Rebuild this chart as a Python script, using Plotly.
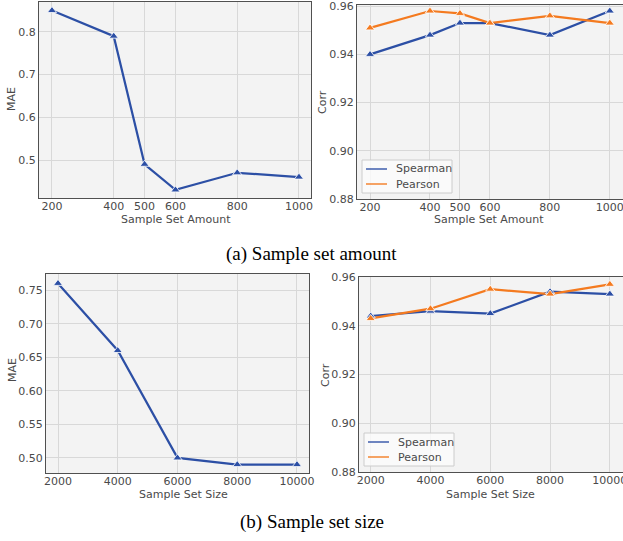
import plotly.graph_objects as go

# ---- data ----
amount_x = [200, 400, 500, 600, 800, 1000]
amount_mae = [0.85, 0.79, 0.49, 0.43, 0.47, 0.46]
amount_spearman = [0.940, 0.948, 0.953, 0.953, 0.948, 0.958]
amount_pearson = [0.951, 0.958, 0.957, 0.953, 0.956, 0.953]

size_x = [2000, 4000, 6000, 8000, 10000]
size_mae = [0.76, 0.66, 0.50, 0.49, 0.49]
size_spearman = [0.944, 0.946, 0.945, 0.954, 0.953]
size_pearson = [0.943, 0.947, 0.955, 0.953, 0.957]

amount_ticks = [200, 400, 500, 600, 800, 1000]
size_ticks = [2000, 4000, 6000, 8000, 10000]
corr_ticks = [0.88, 0.90, 0.92, 0.94, 0.96]
mae_ticks_a = [0.5, 0.6, 0.7, 0.8]
mae_ticks_b = [0.50, 0.55, 0.60, 0.65, 0.70, 0.75]

series_names = ["Spearman", "Pearson"]
x_titles = ["Sample Set Amount", "Sample Set Size"]
y_titles = ["MAE", "Corr"]
captions = ["(a) Sample set amount", "(b) Sample set size"]

BLUE = "#2c4fa5"
ORANGE = "#f47a1f"
GREY_TXT = "#4a4a4a"
W, H = 623, 541

fig = go.Figure()

def add(xs, ys, color, xa, ya):
    fig.add_trace(go.Scatter(
        x=xs, y=ys, mode="lines", line=dict(color=color, width=2.2),
        xaxis=xa, yaxis=ya, showlegend=False, hoverinfo="skip"))

def addm(xs, ys, color, xa, ya):
    fig.add_trace(go.Scatter(
        x=xs, y=ys, mode="markers",
        marker=dict(symbol="triangle-up", size=8, color=color,
                    line=dict(color="white", width=0.8)),
        xaxis=xa, yaxis=ya, showlegend=False, hoverinfo="skip"))

# TL
add(amount_x, amount_mae, BLUE, "x", "y")
addm(amount_x, amount_mae, BLUE, "x", "y")
# TR
add(amount_x, amount_spearman, BLUE, "x2", "y2")
add(amount_x, amount_pearson, ORANGE, "x2", "y2")
addm(amount_x, amount_spearman, BLUE, "x2", "y2")
addm(amount_x, amount_pearson, ORANGE, "x2", "y2")
# BL
add(size_x, size_mae, BLUE, "x3", "y3")
addm(size_x, size_mae, BLUE, "x3", "y3")
# BR
add(size_x, size_spearman, BLUE, "x4", "y4")
add(size_x, size_pearson, ORANGE, "x4", "y4")
addm(size_x, size_spearman, BLUE, "x4", "y4")
addm(size_x, size_pearson, ORANGE, "x4", "y4")

def dx(a, b):
    return [a / W, b / W]

def dy(top, bottom):
    return [1 - bottom / H, 1 - top / H]

TICKFONT = dict(family="DejaVu Sans", size=11, color=GREY_TXT)

def xaxis(domain, rng, ticks, anchor):
    return dict(domain=domain, range=rng, tickvals=ticks,
                ticktext=[str(t) for t in ticks], anchor=anchor, automargin=False,
                ticklabeloverflow="allow", ticklabelstandoff=-2,
                showgrid=True, gridcolor="#d8d8d8", gridwidth=1.2,
                zeroline=False, showline=True, linecolor="#505050", linewidth=1.3,
                mirror=True, ticks="", tickfont=TICKFONT)

def yaxis(domain, rng, ticks, fmt, anchor):
    return dict(domain=domain, range=rng, tickvals=ticks,
                ticktext=[format(t, fmt) for t in ticks], anchor=anchor, automargin=False,
                ticklabeloverflow="allow",
                showgrid=True, gridcolor="#d8d8d8", gridwidth=1.2,
                zeroline=False, showline=True, linecolor="#505050", linewidth=1.3,
                mirror=True, ticks="", tickfont=TICKFONT)

shapes = []
annotations = []

def legend_box(left, top):
    shapes.append(dict(type="rect", xref="paper", yref="paper",
                       x0=left / W, x1=(left + 90) / W,
                       y0=1 - (top + 33) / H, y1=1 - top / H,
                       fillcolor="rgba(250,250,250,0.85)",
                       line=dict(color="#cccccc", width=1), layer="above"))
    for i, (name, col) in enumerate(zip(series_names, [BLUE, ORANGE])):
        yc = top + 9 + i * 15
        shapes.append(dict(type="line", xref="paper", yref="paper",
                           x0=(left + 4) / W, x1=(left + 25) / W,
                           y0=1 - yc / H, y1=1 - yc / H,
                           line=dict(color=col, width=1.6), opacity=0.85, layer="above"))
        annotations.append(dict(text=name, x=(left + 32) / W, y=1 - yc / H,
                                xref="paper", yref="paper", showarrow=False,
                                xanchor="left", yanchor="middle",
                                font=dict(family="DejaVu Sans", size=11, color=GREY_TXT)))

legend_box(362, 160)
legend_box(364, 433)

def label(text, xc, yc, angle=0):
    annotations.append(dict(text=text, x=xc / W, y=1 - yc / H, xref="paper", yref="paper",
                            showarrow=False, textangle=angle,
                            xanchor="center", yanchor="middle",
                            font=dict(family="DejaVu Sans", size=11, color=GREY_TXT)))

label(x_titles[0], 176, 219.5)
label(x_titles[0], 489, 219.5)
label(x_titles[1], 183, 494)
label(x_titles[1], 490, 494)
label(y_titles[0], 12, 99, -90)
label(y_titles[1], 323, 102, -90)
label(y_titles[0], 12, 370, -90)
label(y_titles[1], 325, 375, -90)

for text, yc in zip(captions, [254, 522]):
    annotations.append(dict(text=text, x=0.5, y=1 - yc / H, xref="paper", yref="paper",
                            showarrow=False,
                            font=dict(family="Liberation Serif", size=19, color="black"),
                            xanchor="center", yanchor="middle"))

fig.update_layout(
    width=W, height=H, margin=dict(l=0, r=0, t=0, b=0, autoexpand=False),
    paper_bgcolor="white", plot_bgcolor="#f3f3f3", showlegend=False,
    xaxis=xaxis(dx(39, 311), [158, 1039], amount_ticks, "y"),
    yaxis=yaxis(dy(2, 198), [0.411, 0.870], mae_ticks_a, ".1f", "x"),
    xaxis2=xaxis(dx(357, 623), [156.5, 1044], amount_ticks, "y2"),
    yaxis2=yaxis(dy(5, 199), [0.88, 0.9605], corr_ticks, ".2f", "x2"),
    xaxis3=xaxis(dx(46, 309), [1598, 10402], size_ticks, "y3"),
    yaxis3=yaxis(dy(274, 473), [0.4775, 0.774], mae_ticks_b, ".2f", "x3"),
    xaxis4=xaxis(dx(359, 623), [1609, 10440], size_ticks, "y4"),
    yaxis4=yaxis(dy(277, 472), [0.88, 0.96], corr_ticks, ".2f", "x4"),
    shapes=shapes,
    annotations=annotations,
)

fig.write_html("out.html", config={"displayModeBar": False},
               post_script="document.body.style.margin='0px';")
